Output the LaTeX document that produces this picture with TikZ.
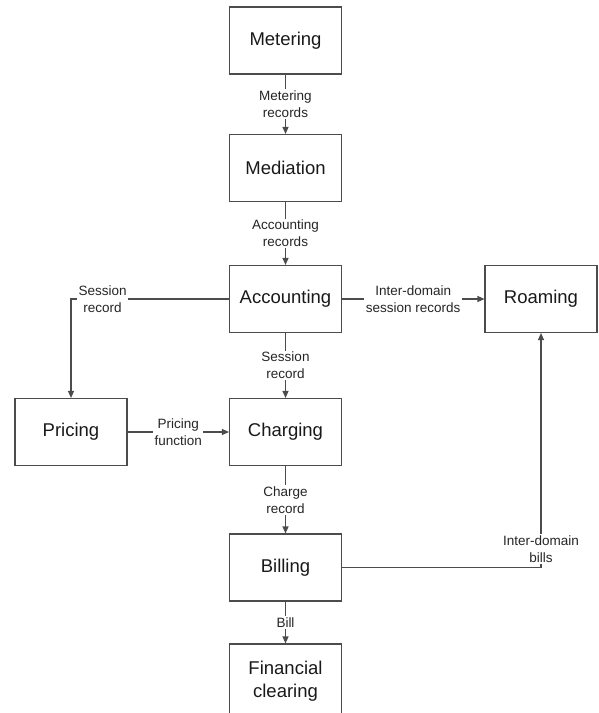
\documentclass[tikz,border=0pt]{standalone}
\usepackage{fontspec}
\setmainfont{Liberation Sans}
\usetikzlibrary{arrows.meta}

\begin{document}
\begin{tikzpicture}[x=1pt, y=-1pt,
        block/.style={draw=black!70, line width=1.1pt, minimum width=112pt, minimum height=67pt,
            align=center, inner sep=0pt, font=\fontsize{18.5}{23}\selectfont, text=black!90},
        flow/.style={draw=black!70, line width=1.1pt, -{Triangle[length=7pt,width=6pt]}},
        lbl/.style={fill=white, align=center, inner sep=1.5pt, font=\fontsize{13.5}{17}\selectfont, text=black!85}]
        \useasboundingbox (0,0) rectangle (598,713);

        \node[block] (metering)   at (285.5,40.5)  {Metering};
        \node[block] (mediation)  at (285.5,168)   {Mediation};
        \node[block] (accounting) at (285.5,299)   {Accounting};
        \node[block] (charging)   at (285.5,432)   {Charging};
        \node[block] (pricing)    at (71,432)      {Pricing};
        \node[block] (roaming)    at (541,299)     {Roaming};
        \node[block] (billing)    at (285.5,567.5) {Billing};
        \node[block, minimum height=74pt] (clearing) at (285.5,681) {Financial\\clearing};

        \draw[flow] (metering) -- node[lbl] {Metering\\records} (mediation);
        \draw[flow] (mediation) -- node[lbl] {Accounting\\records} (accounting);
        \draw[flow] (accounting) -- node[lbl] {Session\\record} (charging);
        \draw[flow] (charging) -- node[lbl] {Charge\\record} (billing);
        \draw[flow] (billing) -- node[lbl] {Bill} (clearing);
        \draw[flow] (pricing) -- node[lbl] {Pricing\\function} (charging);
        \draw[flow] (accounting) -- node[lbl] {Inter-domain\\session records} (roaming);

        \draw[flow] (accounting.west) -- node[lbl, pos=0.8] {Session\\record} (pricing.north |- accounting.west) -- (pricing.north);
        \draw[flow] (billing.east) -- (roaming.south |- billing.east) -- node[lbl, pos=0.08] {Inter-domain\\bills} (roaming.south);
    \end{tikzpicture}
\end{document}
